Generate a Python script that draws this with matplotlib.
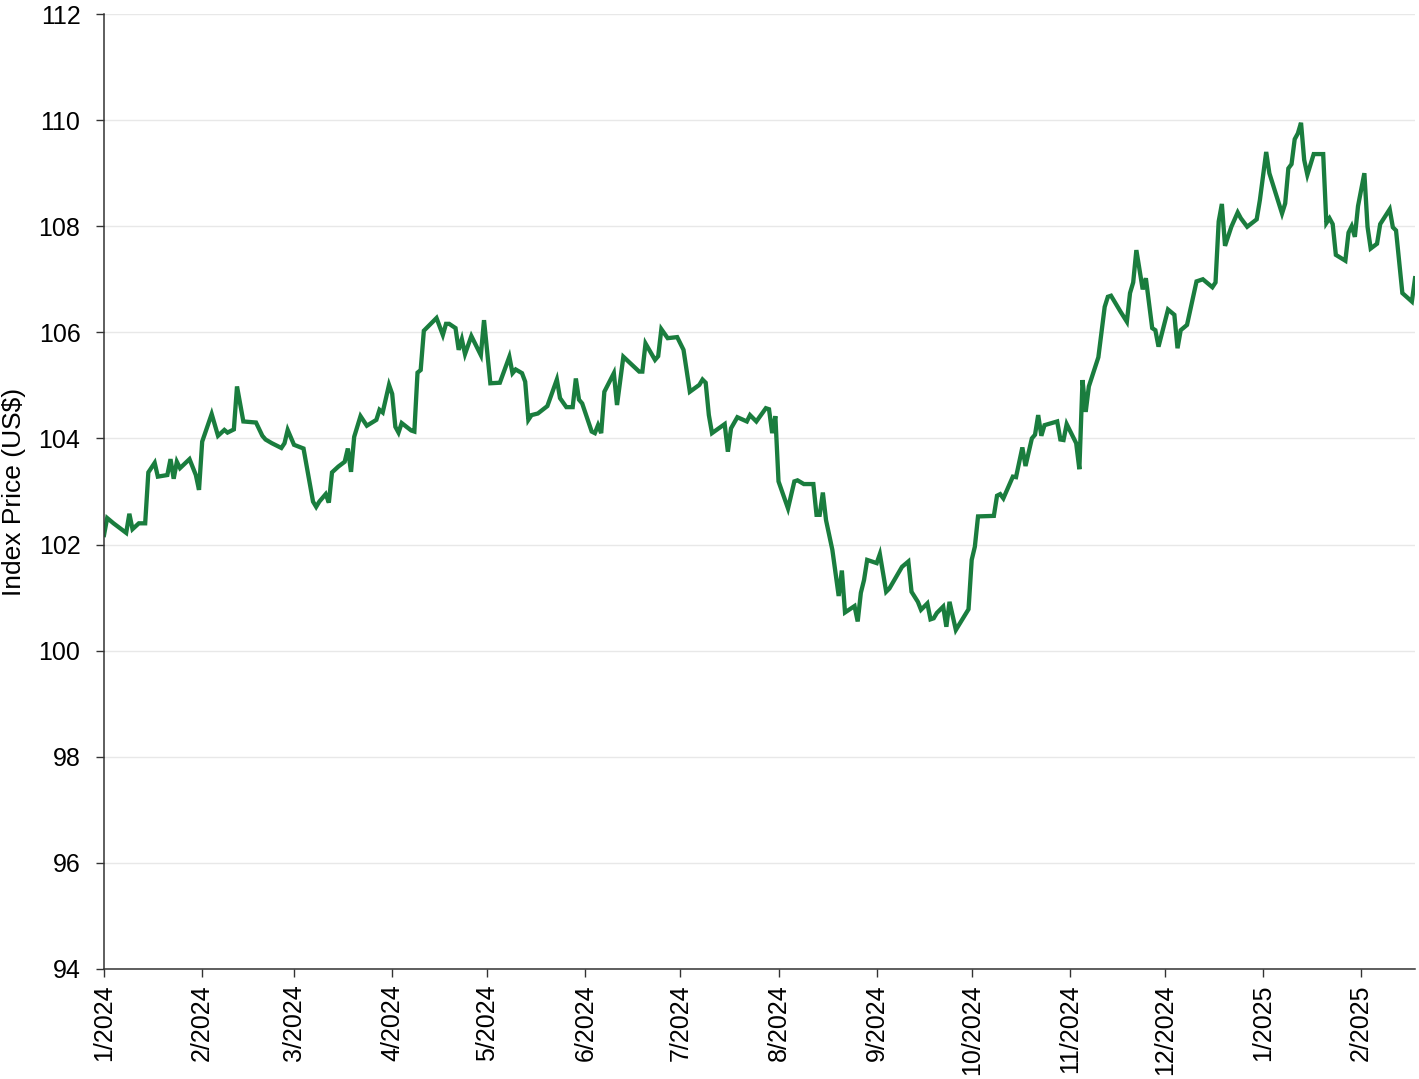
import matplotlib
matplotlib.use("Agg")
import matplotlib.pyplot as plt
import matplotlib.dates as mdates
import pandas as pd

# ----------------- Data --------------------------------------------------
dates = [
    "2024-01-01", "2024-01-02", "2024-01-04", "2024-01-08", "2024-01-09", "2024-01-10",
    "2024-01-12", "2024-01-14", "2024-01-15", "2024-01-17", "2024-01-18", "2024-01-21",
    "2024-01-22", "2024-01-23", "2024-01-24", "2024-01-25", "2024-01-28", "2024-01-30",
    "2024-01-31", "2024-02-01", "2024-02-04", "2024-02-06", "2024-02-08", "2024-02-09",
    "2024-02-11", "2024-02-12", "2024-02-14", "2024-02-18", "2024-02-20", "2024-02-21",
    "2024-02-23", "2024-02-26", "2024-02-27", "2024-02-28", "2024-03-01", "2024-03-04",
    "2024-03-07", "2024-03-08", "2024-03-09", "2024-03-11", "2024-03-12", "2024-03-13",
    "2024-03-15", "2024-03-17", "2024-03-18", "2024-03-19", "2024-03-20", "2024-03-22",
    "2024-03-24", "2024-03-27", "2024-03-28", "2024-03-29", "2024-03-31", "2024-04-01",
    "2024-04-02", "2024-04-03", "2024-04-04", "2024-04-07", "2024-04-08", "2024-04-09",
    "2024-04-10", "2024-04-11", "2024-04-15", "2024-04-17", "2024-04-18", "2024-04-19",
    "2024-04-21", "2024-04-22", "2024-04-23", "2024-04-24", "2024-04-26", "2024-04-29",
    "2024-04-30", "2024-05-02", "2024-05-05", "2024-05-08", "2024-05-09", "2024-05-10",
    "2024-05-12", "2024-05-13", "2024-05-14", "2024-05-15", "2024-05-17", "2024-05-20",
    "2024-05-23", "2024-05-24", "2024-05-26", "2024-05-28", "2024-05-29", "2024-05-30",
    "2024-05-31", "2024-06-03", "2024-06-04", "2024-06-05", "2024-06-06", "2024-06-07",
    "2024-06-10", "2024-06-11", "2024-06-13", "2024-06-18", "2024-06-19", "2024-06-20",
    "2024-06-23", "2024-06-24", "2024-06-25", "2024-06-27", "2024-06-30", "2024-07-02",
    "2024-07-04", "2024-07-07", "2024-07-08", "2024-07-09", "2024-07-10", "2024-07-11",
    "2024-07-15", "2024-07-16", "2024-07-17", "2024-07-19", "2024-07-22", "2024-07-23",
    "2024-07-25", "2024-07-28", "2024-07-29", "2024-07-30", "2024-07-31", "2024-08-01",
    "2024-08-04", "2024-08-06", "2024-08-07", "2024-08-09", "2024-08-12", "2024-08-13",
    "2024-08-14", "2024-08-15", "2024-08-16", "2024-08-18", "2024-08-20", "2024-08-21",
    "2024-08-22", "2024-08-25", "2024-08-26", "2024-08-27", "2024-08-28", "2024-08-29",
    "2024-09-01", "2024-09-02", "2024-09-04", "2024-09-05", "2024-09-09", "2024-09-11",
    "2024-09-12", "2024-09-14", "2024-09-15", "2024-09-17", "2024-09-18", "2024-09-19",
    "2024-09-20", "2024-09-22", "2024-09-23", "2024-09-24", "2024-09-26", "2024-09-30",
    "2024-10-01", "2024-10-02", "2024-10-03", "2024-10-08", "2024-10-09", "2024-10-10",
    "2024-10-11", "2024-10-14", "2024-10-15", "2024-10-17", "2024-10-18", "2024-10-20",
    "2024-10-21", "2024-10-22", "2024-10-23", "2024-10-24", "2024-10-28", "2024-10-29",
    "2024-10-30", "2024-10-31", "2024-11-03", "2024-11-04", "2024-11-05", "2024-11-06",
    "2024-11-07", "2024-11-10", "2024-11-12", "2024-11-13", "2024-11-14", "2024-11-17",
    "2024-11-19", "2024-11-20", "2024-11-21", "2024-11-22", "2024-11-24", "2024-11-25",
    "2024-11-27", "2024-11-28", "2024-11-29", "2024-12-02", "2024-12-04", "2024-12-05",
    "2024-12-06", "2024-12-08", "2024-12-11", "2024-12-13", "2024-12-16", "2024-12-17",
    "2024-12-18", "2024-12-19", "2024-12-20", "2024-12-22", "2024-12-24", "2024-12-25",
    "2024-12-27", "2024-12-30", "2024-12-31", "2025-01-02", "2025-01-03", "2025-01-07",
    "2025-01-08", "2025-01-09", "2025-01-10", "2025-01-11", "2025-01-12", "2025-01-13",
    "2025-01-14", "2025-01-15", "2025-01-17", "2025-01-20", "2025-01-21", "2025-01-22",
    "2025-01-23", "2025-01-24", "2025-01-27", "2025-01-28", "2025-01-29", "2025-01-30",
    "2025-01-31", "2025-02-02", "2025-02-03", "2025-02-04", "2025-02-06", "2025-02-07",
    "2025-02-10", "2025-02-11", "2025-02-12", "2025-02-14", "2025-02-17", "2025-02-18",
]

prices = [
    102.18, 102.50, 102.40, 102.22, 102.58, 102.29,
    102.40, 102.40, 103.36, 103.54, 103.28, 103.31,
    103.61, 103.24, 103.56, 103.44, 103.61, 103.31,
    103.03, 103.94, 104.46, 104.05, 104.16, 104.11,
    104.17, 104.98, 104.32, 104.30, 104.05, 103.98,
    103.91, 103.82, 103.91, 104.16, 103.88, 103.81,
    102.81, 102.71, 102.81, 102.95, 102.79, 103.36,
    103.47, 103.56, 103.81, 103.37, 104.03, 104.42,
    104.24, 104.35, 104.54, 104.49, 105.01, 104.84,
    104.22, 104.11, 104.29, 104.15, 104.13, 105.24,
    105.29, 106.03, 106.27, 105.95, 106.16, 106.16,
    106.08, 105.67, 105.87, 105.59, 105.93, 105.57,
    106.23, 105.04, 105.05, 105.54, 105.23, 105.30,
    105.23, 105.07, 104.35, 104.44, 104.47, 104.61,
    105.11, 104.76, 104.59, 104.59, 105.13, 104.73,
    104.66, 104.13, 104.10, 104.25, 104.10, 104.88,
    105.23, 104.63, 105.54, 105.26, 105.26, 105.79,
    105.48, 105.55, 106.06, 105.89, 105.91, 105.67,
    104.88, 105.01, 105.11, 105.05, 104.44, 104.10,
    104.27, 103.75, 104.19, 104.40, 104.32, 104.44,
    104.32, 104.57, 104.55, 104.10, 104.42, 103.19,
    102.68, 103.19, 103.21, 103.14, 103.14, 102.56,
    102.56, 102.98, 102.46, 101.90, 101.03, 101.51,
    100.72, 100.84, 100.55, 101.09, 101.33, 101.71,
    101.65, 101.82, 101.11, 101.17, 101.58, 101.68,
    101.11, 100.92, 100.77, 100.89, 100.59, 100.61,
    100.71, 100.83, 100.45, 100.92, 100.39, 100.78,
    101.71, 101.96, 102.53, 102.54, 102.92, 102.95,
    102.87, 103.28, 103.27, 103.83, 103.48, 104.00,
    104.07, 104.44, 104.05, 104.25, 104.32, 103.98,
    103.97, 104.27, 103.91, 103.42, 105.10, 104.50,
    104.98, 105.53, 106.48, 106.67, 106.69, 106.39,
    106.20, 106.74, 106.94, 107.55, 106.81, 107.02,
    106.08, 106.04, 105.73, 106.43, 106.33, 105.70,
    106.04, 106.14, 106.96, 107.00, 106.85, 106.94,
    108.09, 108.42, 107.63, 107.99, 108.26, 108.15,
    107.99, 108.13, 108.49, 109.40, 109.00, 108.24,
    108.43, 109.09, 109.17, 109.64, 109.75, 109.95,
    109.25, 108.97, 109.36, 109.36, 108.06, 108.15,
    108.04, 107.46, 107.35, 107.88, 108.00, 107.80,
    108.38, 109.00, 107.99, 107.58, 107.67, 108.04,
    108.32, 107.98, 107.92, 106.74, 106.58, 107.02,
]

y_ticks = [94, 96, 98, 100, 102, 104, 106, 108, 110, 112]
y_label = "Index Price (US$)"

LINE = "#1a7d3e"

# ----------------- Style ------------------------------------------------
plt.rcParams.update({
    "font.family": ["Liberation Sans", "DejaVu Sans"],
    "font.size": 18,
    "axes.spines.top": False,
    "axes.spines.right": False,
    "axes.linewidth": 1.1,
    "axes.edgecolor": "#333333",
    "xtick.labelsize": 18,
    "ytick.labelsize": 18,
})

series = pd.Series(prices, index=pd.to_datetime(dates))

fig = plt.figure(figsize=(14.19, 10.79), dpi=100)
ax = fig.add_axes([0.0733, 0.102, 0.9239, 0.885])

ax.plot(series.index, series.values, color=LINE, linewidth=3.1,
        solid_joinstyle="miter")

ax.set_ylim(94, 112)
ax.set_yticks(y_ticks)
ax.set_xlim(pd.Timestamp("2024-01-01"), pd.Timestamp("2025-02-18"))
ax.xaxis.set_major_locator(mdates.MonthLocator())
ax.xaxis.set_major_formatter(
    plt.FuncFormatter(lambda v, _: f"{mdates.num2date(v).month}/{mdates.num2date(v).year}"))
plt.setp(ax.get_xticklabels(), rotation=90)

ax.grid(axis="y", color="#e8e8e8", linewidth=1.0)
ax.set_axisbelow(True)
ax.tick_params(axis="y", length=6, width=1.0, pad=11, color="#333333")
ax.tick_params(axis="x", length=6, width=1.0, pad=5, color="#333333")
ax.set_ylabel(y_label, fontsize=19, labelpad=9)

fig.savefig("out.png", dpi=100)
